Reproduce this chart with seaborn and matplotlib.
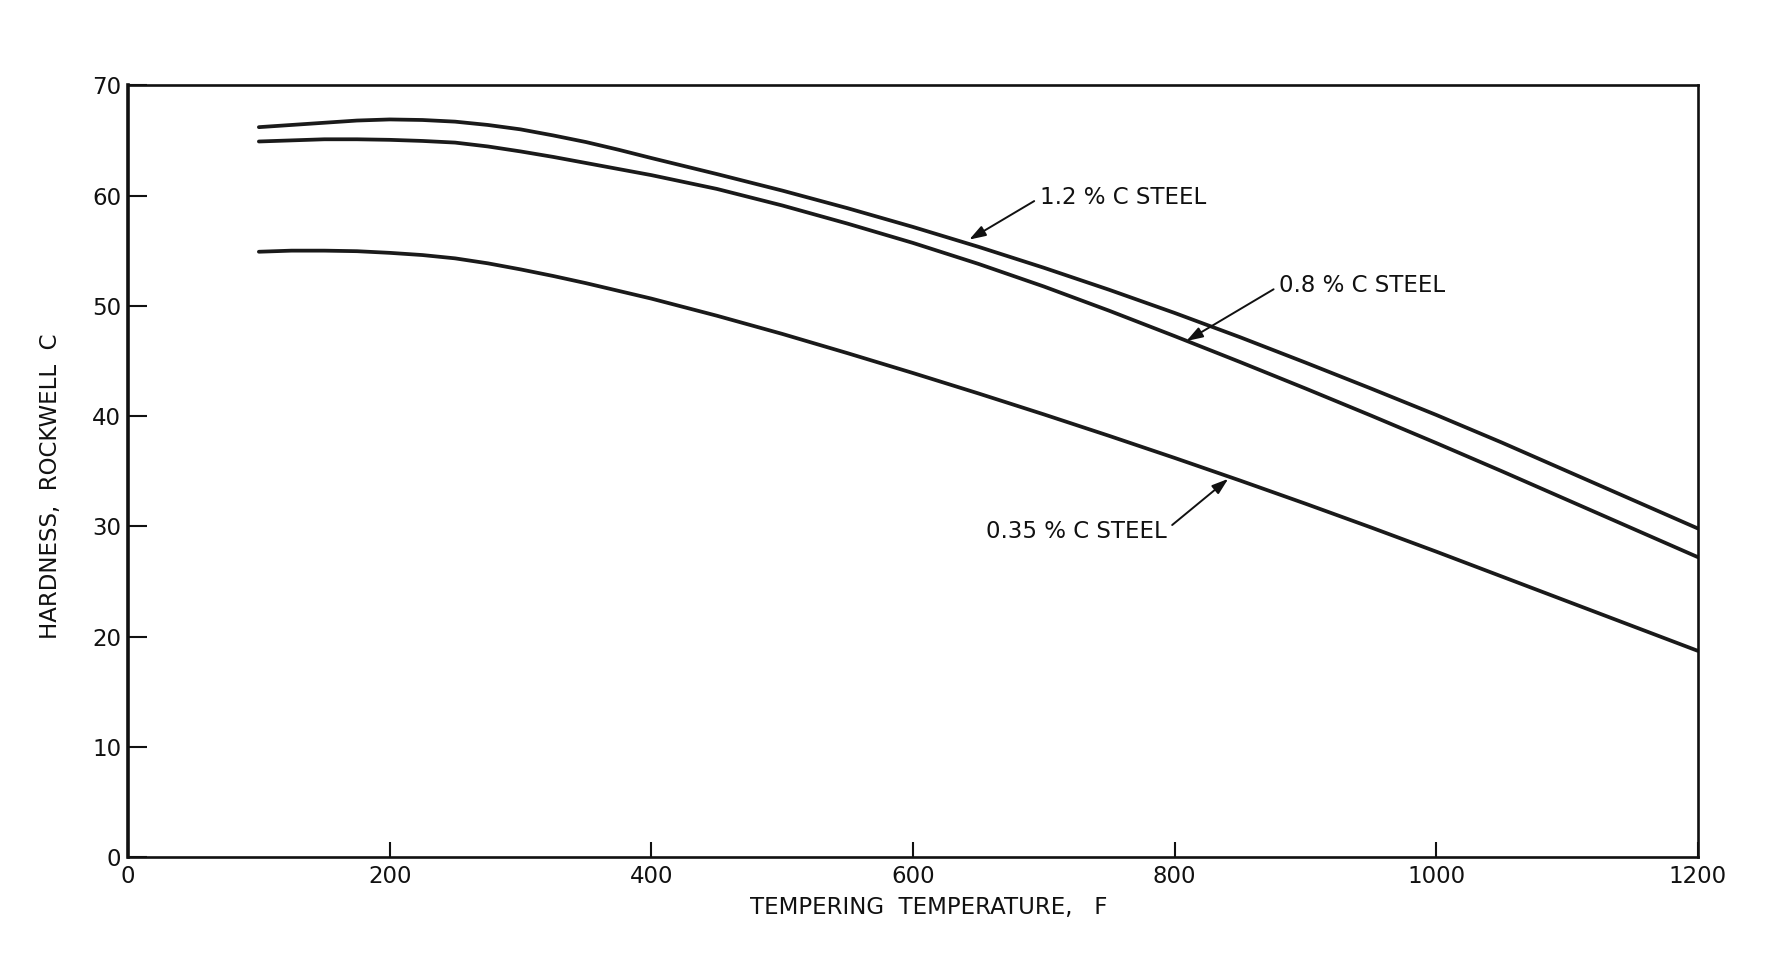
import pandas as pd
import numpy as np
import matplotlib
matplotlib.use('Agg')
import matplotlib.pyplot as plt
import seaborn as sns

# tempering temperature (F) and hardness (Rockwell C)
temps = [100, 125, 150, 175, 200, 225, 250, 275, 300, 325, 350, 375, 400,
         450, 500, 550, 600, 650, 700, 750, 800, 850, 900, 950, 1000,
         1050, 1100, 1150, 1200]
steel_12 = [66.2, 66.4, 66.6, 66.8, 66.9, 66.85, 66.7, 66.4, 66.0, 65.45, 64.85, 64.15, 63.4,
            61.95, 60.45, 58.85, 57.15, 55.35, 53.45, 51.45, 49.35, 47.15, 44.85, 42.5, 40.1,
            37.6, 35.0, 32.4, 29.8]
steel_08 = [64.9, 65.0, 65.1, 65.1, 65.05, 64.95, 64.8, 64.45, 64.0, 63.5, 62.95, 62.4, 61.85,
            60.6, 59.1, 57.45, 55.7, 53.8, 51.75, 49.55, 47.25, 44.9, 42.5, 40.05, 37.55,
            35.0, 32.4, 29.8, 27.2]
steel_035 = [54.9, 55.0, 55.0, 54.95, 54.8, 54.6, 54.3, 53.85, 53.3, 52.7, 52.05, 51.35, 50.65,
             49.1, 47.45, 45.7, 43.9, 42.05, 40.15, 38.2, 36.2, 34.15, 32.05, 29.9, 27.7,
             25.45, 23.2, 20.95, 18.7]

steel_names = ['1.2 % C STEEL', '0.8 % C STEEL', '0.35 % C STEEL']
x_ticks = [0, 200, 400, 600, 800, 1000, 1200]
y_ticks = [0, 10, 20, 30, 40, 50, 60, 70]

df = pd.concat([
    pd.DataFrame({'temp': temps, 'hardness': steel_12, 'steel': steel_names[0]}),
    pd.DataFrame({'temp': temps, 'hardness': steel_08, 'steel': steel_names[1]}),
    pd.DataFrame({'temp': temps, 'hardness': steel_035, 'steel': steel_names[2]}),
])

sns.set_theme(style='white')
plt.rcParams['font.family'] = ['DejaVu Sans']

fig = plt.figure(figsize=(17.91, 9.58), dpi=100)
ax = fig.add_axes([0.0715, 0.1054, 0.8765, 0.8056])

sns.lineplot(data=df, x='temp', y='hardness', hue='steel',
             palette=['#1a1a1a'] * 3, linewidth=2.7, legend=False, ax=ax)

ax.set_xlim(0, 1200)
ax.set_ylim(0, 70)
ax.set_xticks(x_ticks)
ax.set_yticks(y_ticks)

for side in ['top', 'right', 'bottom']:
    ax.spines[side].set_color('#111111')
    ax.spines[side].set_linewidth(1.9)
ax.spines['left'].set_color('#111111')
ax.spines['left'].set_linewidth(2.6)

fs = 16.5
ax.tick_params(axis='x', direction='in', length=11, width=1.5, color='#111111',
               pad=6, labelsize=fs, labelcolor='#111111', bottom=True, top=False)
ax.tick_params(axis='y', direction='in', length=14, width=1.5, color='#111111',
               pad=5, labelsize=fs, labelcolor='#111111', left=True, right=False)

ax.set_xlabel('TEMPERING  TEMPERATURE,   F', fontsize=fs, color='#111111')
ax.set_ylabel('HARDNESS,  ROCKWELL  C', fontsize=fs, color='#111111')
ax.xaxis.set_label_coords(0.51, -0.05)
ax.yaxis.set_label_coords(-0.042, 0.48)

arrow = dict(arrowstyle='-|>,head_length=0.6,head_width=0.2', color='#111111',
             lw=1.4, shrinkA=2, shrinkB=0)

ax.annotate(steel_names[0], xy=(643, 56.0), xytext=(697, 59.8),
            fontsize=fs, color='#111111', ha='left', va='center',
            arrowprops=dict(arrow, relpos=(0, 0.5)))
ax.annotate(steel_names[1], xy=(809, 46.8), xytext=(880, 51.8),
            fontsize=fs, color='#111111', ha='left', va='center',
            arrowprops=dict(arrow, relpos=(0, 0.5)))
ax.annotate(steel_names[2], xy=(841, 34.3), xytext=(794, 29.5),
            fontsize=fs, color='#111111', ha='right', va='center',
            arrowprops=dict(arrow, relpos=(1, 0.6)))

fig.savefig('out.png', dpi=100, facecolor='white')
